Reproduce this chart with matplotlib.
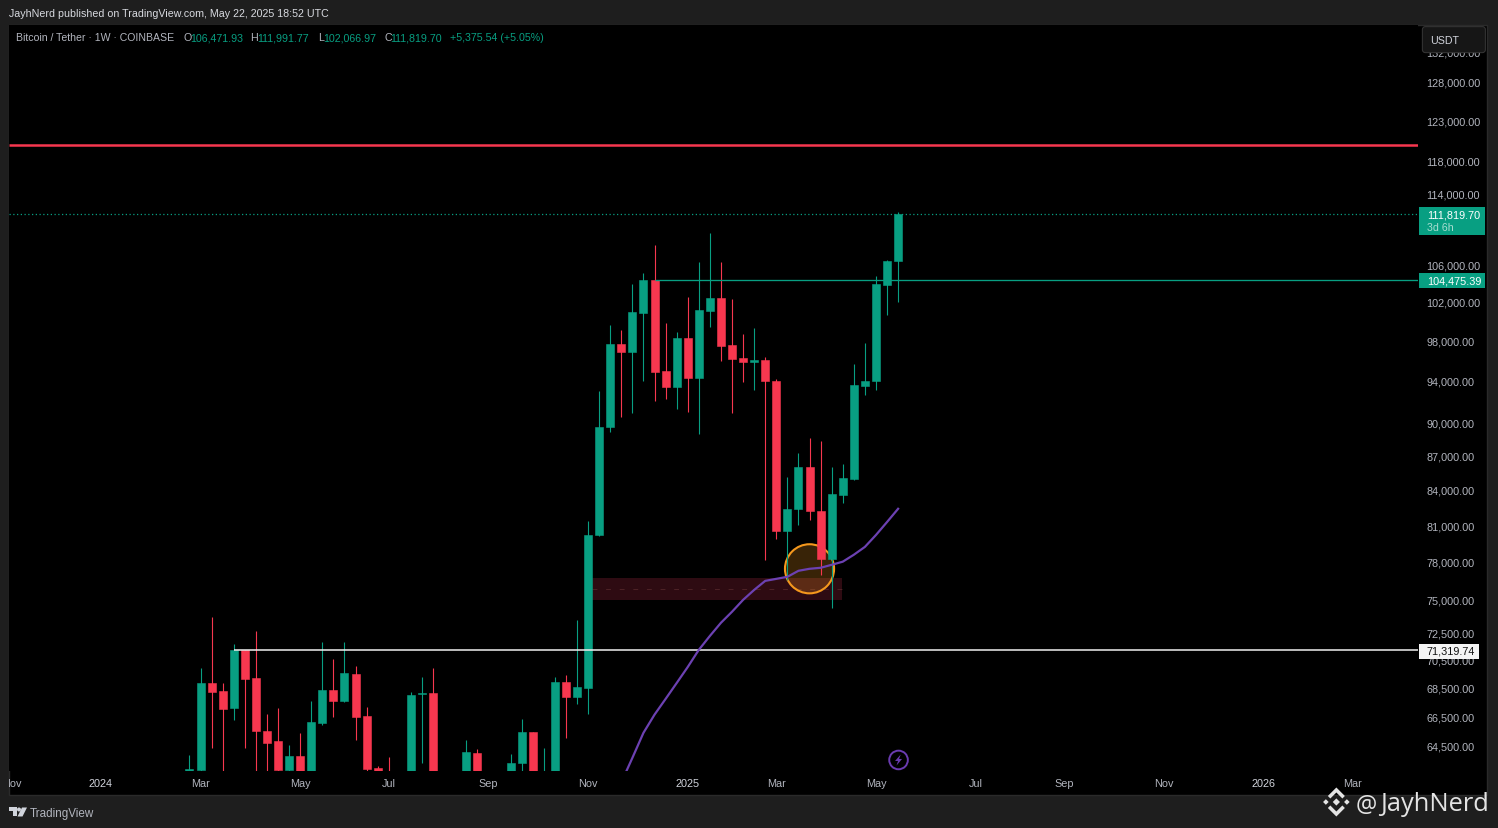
import matplotlib
matplotlib.use("Agg")
import matplotlib.pyplot as plt
import matplotlib.dates as mdates
import numpy as np
import pandas as pd
from matplotlib.patches import Rectangle, FancyBboxPatch, Polygon, Ellipse
from matplotlib.ticker import NullLocator
from matplotlib.transforms import Bbox, IdentityTransform, TransformedBbox, ScaledTranslation

# ---- data -------------------------------------------------------------
first_week = "2024-02-26"
opens = [62870, 63000, 68890, 68330, 67160, 71319.74, 69250, 65580, 64900, 63000, 63910, 62360, 66150,
         68410, 67640, 69530, 66620, 63130, 62360, 61070, 61700, 68130, 68190, 62000, 61000, 62000,
         64110, 61000, 59000, 62360, 63450, 65510, 61700, 62360, 68950, 67920, 68550, 80270, 89740,
         97770, 96970, 100960, 104475.39, 95090, 93520, 98380, 94400, 101160, 102530, 97670, 96390,
         96000, 96190, 94100, 80600, 82470, 86060, 82320, 78340, 83660, 85060, 93600, 94100, 103900,
         106471.93]
highs = [63975, 69980, 73780, 68890, 71736, 71319.74, 72700, 66760, 67160, 64640, 65450, 67640, 71880,
         70650, 71880, 70120, 67230, 63260, 63840, 62680, 68260, 69320, 69980, 62700, 62500, 64970,
         64370, 62500, 62000, 64040, 66420, 65510, 64440, 69320, 69460, 73560, 81440, 93140, 99720,
         99200, 104030, 105200, 108290, 99920, 98990, 102640, 106420, 109650, 106420, 102420, 98810,
         99420, 96490, 94300, 85240, 87380, 88740, 88470, 86060, 86390, 95780, 97870, 104900, 106640,
         111991.77]
lows = [62800, 62870, 64440, 62680, 66350, 64440, 62680, 62680, 62680, 62680, 61700, 62000, 66010,
        66550, 67570, 64970, 62360, 61070, 60450, 60330, 61380, 63450, 61380, 58000, 57000, 61700,
        61700, 58000, 58000, 62000, 62360, 61700, 61380, 62000, 65100, 67440, 66760, 80190, 89260,
        90700, 91060, 94110, 92190, 92380, 91440, 91160, 89100, 99520, 96080, 91060, 94000, 93230,
        78250, 79930, 76640, 81130, 81490, 77000, 74460, 82990, 84970, 92760, 93240, 100750,
        102066.97]
closes = [63070, 68880, 68264, 67100, 71319.74, 69180, 65580, 64770, 63000, 63910, 62360, 66220, 68410,
          67640, 69600, 66550, 63070, 61700, 61070, 62000, 68060, 68190, 62000, 61000, 59000, 64170,
          62000, 59000, 61000, 63450, 65510, 62000, 62360, 68970, 67920, 68620, 80270, 89740, 97770,
          96970, 101060, 104475.39, 95000, 93520, 98380, 94400, 101270, 102530, 97570, 96290, 96000,
          96190, 94100, 80600, 82460, 86060, 82320, 78340, 83750, 85150, 93690, 94100, 104030, 106471.93,
          111819.70]

ma_first_index = 39
ma_values = [62190, 63780, 65450, 66690, 67780, 68900, 70050, 71300, 72330, 73320, 74160, 75074, 75850,
             76560, 76720, 76880, 77360, 77520, 77600, 77840, 78090, 78650, 79290, 80270, 81350, 82470]

resistance_level = 120000
last_price = 111819.70
green_level = 104475.39
white_level = 71319.74
zone_low, zone_high = 75074, 76800
zone_start, zone_end = "2024-11-06 12:00", "2025-04-13 12:00"
circle_date, circle_price = "2025-03-24 00:00", 77520

price_ticks = [132000, 128000, 123000, 118000, 114000, 106000, 102000, 98000, 94000, 90000, 87000, 84000,
               81000, 78000, 75000, 72500, 70500, 68500, 66500, 64500]
time_ticks = ["2023-11-06", "2024-01-01", "2024-03-04", "2024-05-06", "2024-07-01", "2024-09-02", "2024-11-04",
              "2025-01-06", "2025-03-03", "2025-05-05", "2025-07-07", "2025-09-01", "2025-11-03",
              "2026-01-05", "2026-03-02"]
time_labels = ["Nov", "2024", "Mar", "May", "Jul", "Sep", "Nov", "2025", "Mar", "May", "Jul", "Sep", "Nov",
               "2026", "Mar"]

# ---- style ------------------------------------------------------------
W, H = 1498, 828
GREEN, RED = "#089F82", "#F7374F"
BG, TXT, DIM = "#1E1E1E", "#D1D4DC", "#B2B5BE"
FONT = "Liberation Sans"
plt.rcParams["font.family"] = FONT

fig = plt.figure(figsize=((W + 0.4) / 100, (H + 0.4) / 100), dpi=100, facecolor=BG)
L, R, T, B = 9, 1418, 25, 771
ax = fig.add_axes([L / W, 1 - B / H, (R - L) / W, (B - T) / H], facecolor="black")


def fx(x):
    return x / W


def fy(y):
    return 1 - y / H


def pts(seq):
    return [(fx(a), fy(b)) for a, b in seq]


# black panes behind the axes (time and price scales)
fig.add_artist(Rectangle((fx(L), fy(795)), (1487 - L) / W, (795 - T) / H, transform=fig.transFigure,
                         facecolor="black", edgecolor="#2A2A2A", lw=1, zorder=-1))

ax.set_yscale("log")
weeks = pd.date_range(first_week, periods=len(opens), freq="7D")
x = mdates.date2num(weeks)
o, h, l, c = map(np.array, (opens, highs, lows, closes))
colors = [GREEN if b >= a else RED for a, b in zip(o, c)]

# zone and circle
d0, d1 = mdates.date2num(pd.Timestamp(zone_start)), mdates.date2num(pd.Timestamp(zone_end))
ax.add_patch(Rectangle((d0, zone_low), d1 - d0, zone_high - zone_low, facecolor="#2E0B12",
                       edgecolor="none", zorder=1))
ax.hlines((zone_low * zone_high) ** 0.5, d0, d1, colors="#4E2226", lw=0.7, linestyles=(0, (5, 9)), zorder=1.1)
cd = mdates.date2num(pd.Timestamp(circle_date))
ax.scatter([cd], [circle_price], s=1250, facecolor=(0.96, 0.60, 0.12, 0.23), edgecolor="none", zorder=1.5)
ax.scatter([cd], [circle_price], s=1250, facecolor="none", edgecolor="#F5981D", lw=1.5, zorder=1.6)

# candles
ax.vlines(x, l, h, colors=colors, lw=0.8, zorder=2)
ax.bar(x, np.abs(c - o), bottom=np.minimum(o, c), width=5.06, color=colors, edgecolor=colors, lw=0.4, zorder=3)

# horizontal levels
xl0 = mdates.date2num(pd.Timestamp("2023-11-03 22:00"))
xl1 = mdates.date2num(pd.Timestamp("2026-04-12 22:00"))
ax.hlines(resistance_level, xl0, xl1, colors=RED, lw=1.8, zorder=4)
ax.hlines(last_price, xl0, xl1, colors=GREEN, lw=0.9, linestyles=(0, (1, 2)), zorder=4)
ax.hlines(green_level, x[42], xl1, colors=GREEN, lw=0.95, zorder=4)
ax.hlines(white_level, x[4], xl1, colors="#F0F0F0", lw=1.1, zorder=4)

# moving average
ax.plot(x[ma_first_index:], ma_values, color="#6C41B2", lw=1.6, zorder=5, solid_joinstyle="round")

ax.set_xlim(xl0, xl1)
ax.set_ylim(62927, 135895)
for s in ax.spines.values():
    s.set_visible(False)
ax.yaxis.tick_right()
ax.set_yticks(price_ticks, [f"{v:,.2f}" for v in price_ticks])
ax.yaxis.set_minor_locator(NullLocator())
ax.tick_params(axis="y", which="both", length=0, pad=5.8, labelsize=7.8, labelcolor=DIM)
ax.set_xticks(mdates.date2num(pd.to_datetime(time_ticks)), time_labels)
ax.tick_params(axis="x", length=0, pad=5.5, labelsize=7.8, labelcolor=DIM)
lift = ScaledTranslation(0, 0.6 / 100, fig.dpi_scale_trans)
for tick in ax.yaxis.get_major_ticks():
    tick.label2.set_transform(tick.label2.get_transform() + lift)
clip = TransformedBbox(Bbox([[L, 0], [W, H]]), IdentityTransform())
for lab in ax.get_xticklabels():
    lab.set_clip_box(clip)
    lab.set_clip_on(True)
    if lab.get_text() in ("2024", "2025", "2026"):
        lab.set_color(TXT)


def ftext(xp, yp, s, color=TXT, size=7.7, ha="left", weight="normal", **kw):
    return fig.text(fx(xp), fy(yp), s, color=color, fontsize=size, ha=ha, va="center_baseline",
                    fontweight=weight, zorder=6, **kw)


# header and legend
ftext(9, 13, "JayhNerd published on TradingView.com, May 22, 2025 18:52 UTC", color="#D8DAE0", size=7.7)
ftext(16, 37, "Bitcoin / Tether · 1W · COINBASE", color=DIM, size=7.6)
legend_parts = [(183, "O", DIM), (190, "106,471.93", GREEN), (250, "H", DIM), (257, "111,991.77", GREEN),
                (318, "L", DIM), (323.5, "102,066.97", GREEN), (384, "C", DIM), (390, "111,819.70", GREEN),
                (450, "+5,375.54 (+5.05%)", GREEN)]
for xp, s, col in legend_parts:
    ftext(xp, 37, s, color=col)

# USDT button
fig.add_artist(FancyBboxPatch((fx(1425), fy(50)), 57 / W, 20 / H, boxstyle="round,pad=0.002,rounding_size=0.002",
                              transform=fig.transFigure, facecolor="#161616", edgecolor="#333333", lw=0.8,
                              mutation_aspect=W / H, zorder=5))
ftext(1430, 40, "USDT", color=TXT)


# price labels on the scale
def tag(y0, y1, x1, color):
    fig.add_artist(Rectangle((fx(1419), fy(y1)), (x1 - 1419) / W, (y1 - y0) / H, transform=fig.transFigure,
                             facecolor=color, edgecolor="none", zorder=5))


tag(207, 235, 1485, GREEN)
ftext(1426.5, 214, "111,819.70", color="white", size=7.8)
ftext(1426.5, 227, "3d 6h", color="#A8DDD0")
tag(273, 288, 1485, GREEN)
ftext(1426.5, 280, "104,475.39", color="white", size=7.8)
tag(644, 659, 1479, "#F4F4F4")
ftext(1426.5, 650.5, "71,319.74", color="#111111", size=7.8)

# lightning marker
fig.add_artist(Ellipse((fx(898.3), fy(760)), 18.6 / W, 18.6 / H, transform=fig.transFigure,
                       facecolor="none", edgecolor="#6A3BB0", lw=1.4, zorder=5))
fig.add_artist(Polygon(pts([(900.5, 754.5), (894.8, 761), (897.8, 761), (896.3, 765.5), (901.8, 759), (898.8, 759)]),
                       closed=True, transform=fig.transFigure, facecolor="#6A3BB0", edgecolor="none", zorder=5))

# TradingView footer
LOGO = "#D1D4DC"
fig.add_artist(Polygon(pts([(9, 807.5), (16.5, 807.5), (16.5, 816.5), (12.5, 816.5), (12.5, 811.5), (9, 811.5)]),
                       closed=True, transform=fig.transFigure, facecolor=LOGO, edgecolor="none", zorder=5))
fig.add_artist(Ellipse((fx(19), fy(809.5)), 4 / W, 4 / H, transform=fig.transFigure,
                       facecolor=LOGO, edgecolor="none", zorder=5))
fig.add_artist(Polygon(pts([(22, 807.5), (27, 807.5), (22.5, 816.5), (17.5, 816.5)]),
                       closed=True, transform=fig.transFigure, facecolor=LOGO, edgecolor="none", zorder=5))
ftext(30, 811.7, "TradingView", color=DIM, size=8.4)

# watermark
WM = "#E4E4E4"
cx, cy = 1336, 802
diamonds = [(0, 0, 3.6), (-10.5, 0, 2.8), (10.5, 0, 2.8)]
for dx, dy, r in diamonds:
    fig.add_artist(Polygon(pts([(cx + dx - r, cy + dy), (cx + dx, cy + dy - r), (cx + dx + r, cy + dy), (cx + dx, cy + dy + r)]),
                           closed=True, transform=fig.transFigure, facecolor=WM, edgecolor="none", zorder=7))
for sgn in (-1, 1):
    chevron = [(cx - 8.5, cy + sgn * 6), (cx, cy + sgn * 14.5), (cx + 8.5, cy + sgn * 6), (cx + 6, cy + sgn * 3.5),
               (cx, cy + sgn * 9.5), (cx - 6, cy + sgn * 3.5)]
    fig.add_artist(Polygon(pts(chevron), closed=True, transform=fig.transFigure, facecolor=WM, edgecolor="none", zorder=7))
fig.text(fx(1355), fy(811.5), "@", color=WM, fontsize=17, fontfamily="Open Sans", ha="left", va="baseline", zorder=7)
fig.text(fx(1380), fy(810.5), "JayhNerd", color=WM, fontsize=18.4, fontfamily="Open Sans", ha="left", va="baseline", zorder=7)

fig.savefig("out.png", dpi=100, facecolor=BG)
